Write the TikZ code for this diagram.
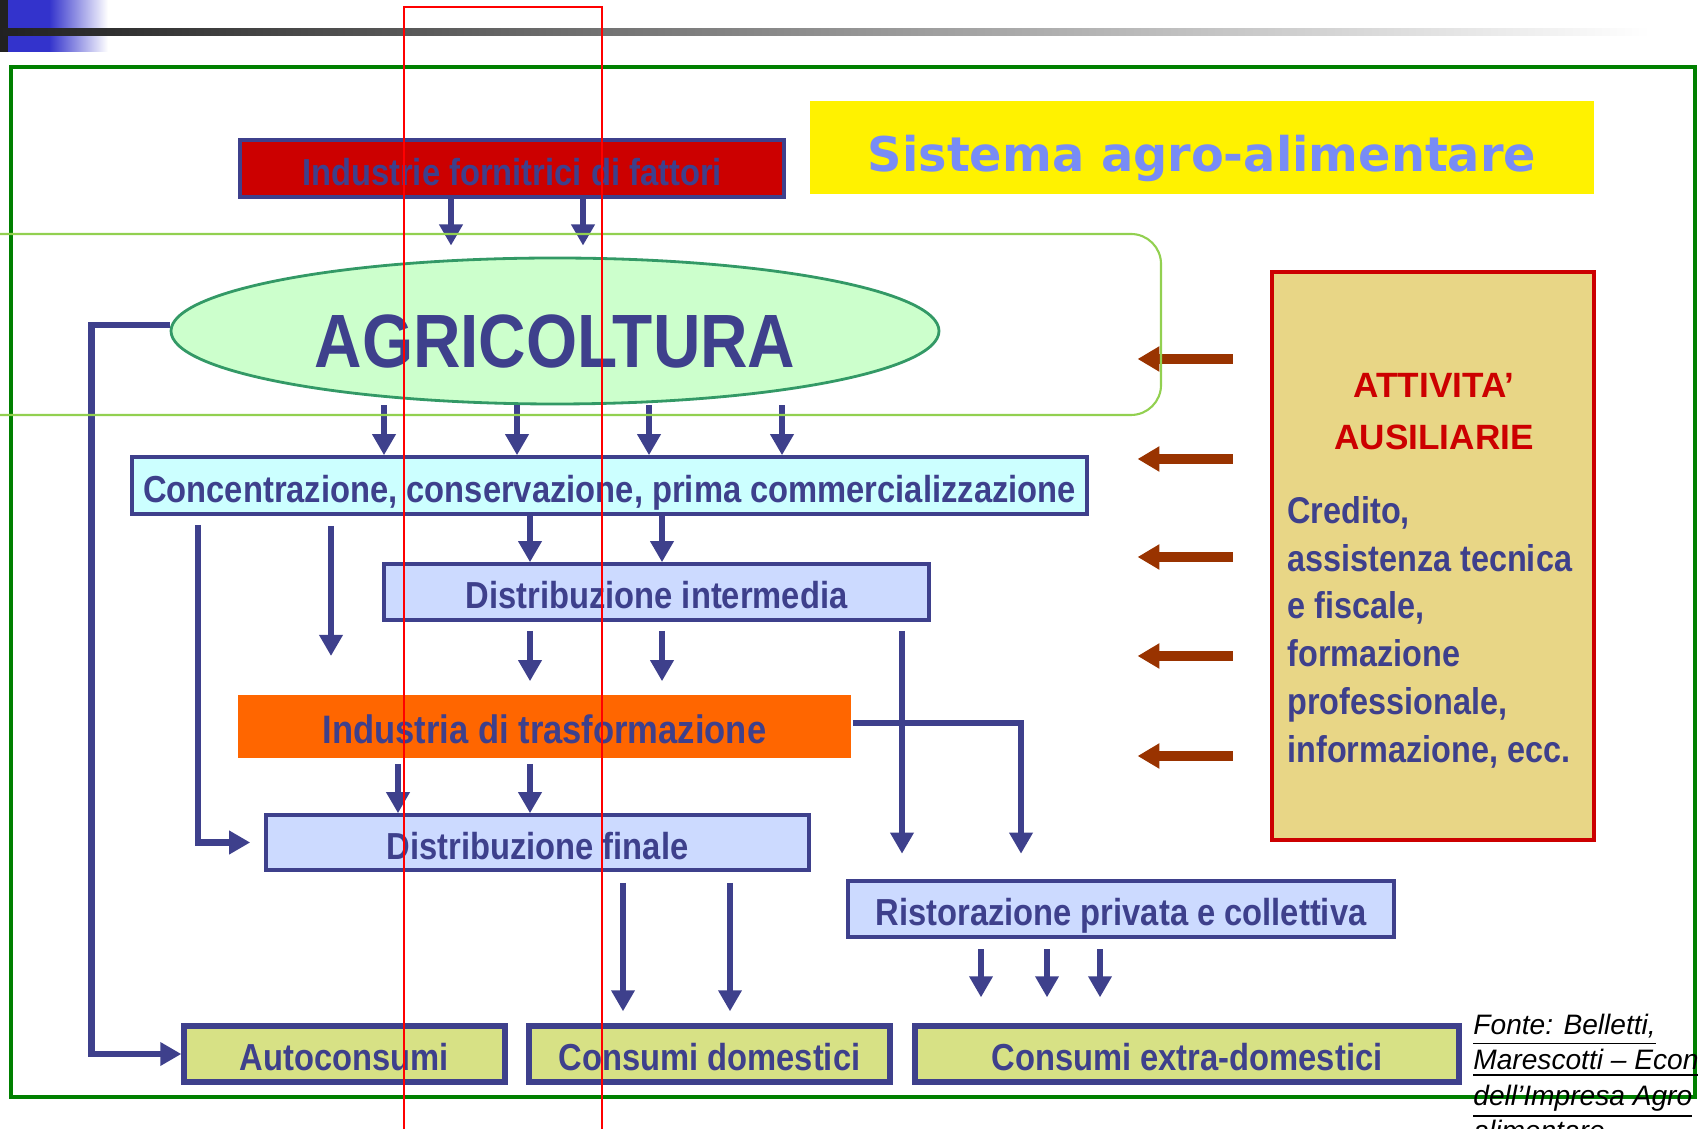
\documentclass[tikz,border=0pt]{standalone}
\usepackage{fontspec}
\setmainfont{Liberation Sans}
\newfontfamily\narrowsf[FakeStretch=0.87]{Liberation Sans}
\newfontfamily\titlesf{DejaVu Sans}
\usepackage{tikz}
\usetikzlibrary{arrows.meta}
\usetikzlibrary{shapes.geometric}

\definecolor{boxnavy}{RGB}{62,64,140}
\definecolor{slideblue}{RGB}{51,51,204}
\definecolor{framegreen}{RGB}{0,128,0}
\definecolor{titleblue}{RGB}{120,140,245}
\definecolor{supplyred}{RGB}{204,0,0}
\definecolor{agrifill}{RGB}{204,255,204}
\definecolor{agriline}{RGB}{51,153,102}
\definecolor{concfill}{RGB}{204,255,255}
\definecolor{distfill}{RGB}{204,218,255}
\definecolor{indorange}{RGB}{255,102,0}
\definecolor{consfill}{RGB}{215,225,133}
\definecolor{auxfill}{RGB}{232,214,134}
\definecolor{auxbrown}{RGB}{153,51,0}
\definecolor{markgreen}{RGB}{146,208,80}

\begin{document}
\begin{tikzpicture}[x=0.1mm, y=-0.1mm, thick]
      \tikzstyle{flow} = [draw=boxnavy, line width=1.9pt, -{Triangle[length=6pt,width=6.4pt]}]
      \tikzstyle{help} = [draw=auxbrown, line width=2.7pt, -{Triangle[length=6.2pt,width=6.8pt]}]
      \tikzstyle{stage} = [rectangle, draw=boxnavy, line width=1pt, fill=distfill, inner sep=0pt,
         text=boxnavy, font=\narrowsf\bfseries\fontsize{10.7pt}{13pt}\selectfont, text height=9.4pt, text depth=0pt]
      \tikzstyle{sink} = [stage, fill=consfill, line width=1.5pt, minimum height=5.6mm]

      \useasboundingbox (0,0) rectangle (1700,1129);
      %slide decoration
      \fill[black!87] (0,0) rectangle (8,52);
      \fill[slideblue] (8,0) rectangle (49,52);
      \shade[left color=slideblue, right color=white] (49,0) rectangle (108,52);
      \shade[left color=black!87, middle color=black!30, right color=white] (0,29) rectangle (1650,36);
      \draw[framegreen, line width=1.2pt] (11,67) rectangle (1695,1097);

      %nodes
      \node[fill=yellow, inner sep=0pt, minimum width=78.4mm, minimum height=9.3mm, text=titleblue,
         font=\titlesf\bfseries\fontsize{13.6pt}{16pt}\selectfont, text height=13.5pt, text depth=0pt]
         (title) at (1202,147.5) {Sistema agro-alimentare};
      \node[stage, fill=supplyred] (indus) at (512,168.5) [minimum width=54.4mm, minimum height=5.7mm] {Industrie fornitrici di fattori};
      \node[ellipse, draw=agriline, fill=agrifill, line width=0.8pt, inner sep=0pt, text=boxnavy,
         font=\narrowsf\bfseries\fontsize{21.5pt}{24pt}\selectfont, text height=20.5pt, text depth=0pt]
         (agri) at (555,331) [minimum width=76.8mm, minimum height=14.6mm] {AGRICOLTURA};
      \node[stage, fill=concfill] (conc) at (609.5,485.5) [minimum width=95.5mm, minimum height=5.7mm] {Concentrazione, conservazione, prima commercializzazione};
      \node[stage] (dint) at (656.5,592) [minimum width=54.5mm, minimum height=5.6mm] {Distribuzione intermedia};
      \node[stage, fill=indorange, draw=none, font=\narrowsf\bfseries\fontsize{11.3pt}{13pt}\selectfont]
         (indu) at (544.5,726.5) [minimum width=61.3mm, minimum height=6.3mm] {Industria di trasformazione};
      \node[stage] (dfin) at (537.5,842.5) [minimum width=54.3mm, minimum height=5.5mm] {Distribuzione finale};
      \node[stage, line width=1.3pt] (rist) at (1121,909) [minimum width=54.6mm, minimum height=5.6mm] {Ristorazione privata e collettiva};
      \node[sink] (auto) at (344.5,1054) [minimum width=32.1mm] {Autoconsumi};
      \node[sink] (consdom) at (709.5,1054) [minimum width=36.1mm] {Consumi domestici};
      \node[sink] (consext) at (1187,1054) [minimum width=54.4mm] {Consumi extra-domestici};

      \node[rectangle, draw=supplyred, fill=auxfill, line width=1.4pt] (attiv) at (1433,556) [minimum width=32.2mm, minimum height=56.8mm] {};
      \node[anchor=north, align=center, inner sep=0pt, text=supplyred, font=\bfseries\fontsize{10pt}{14.8pt}\selectfont]
         (auxhead) at (1434,372) {ATTIVITA’\\AUSILIARIE};
      \node[anchor=north west, align=left, inner sep=0pt, text=boxnavy, font=\narrowsf\bfseries\fontsize{10.6pt}{13.6pt}\selectfont]
         (auxbody) at (1286,495) {Credito,\\assistenza tecnica\\e fiscale,\\formazione\\professionale,\\informazione, ecc.};

      \node[anchor=north west, align=left, inner sep=0pt, font=\itshape\fontsize{8pt}{10pt}\selectfont]
         (fonte) at (1472,1013) {\underline{Fonte: Belletti,}\\\underline{Marescotti – Econ}\\\underline{dell’Impresa Agro}\\\underline{alimentare}};

      \coordinate (drop) at (331,656);

      %lines
      \foreach \x in {451,583}
         \draw[flow, shorten >=1.1mm] (\x,0 |- indus.south) -- (\x,0 |- agri.north);
      \foreach \x in {384,517,649,782}
         \draw[flow] (\x,0 |- agri.south) -- (\x,0 |- conc.north);
      \foreach \x in {530,662}
         \draw[flow] (\x,0 |- conc.south) -- (\x,0 |- dint.north);
      \draw[flow, shorten <=1mm] (drop |- conc.south) -- (drop);
      \draw[flow, shorten <=0.9mm, shorten >=1.4mm] (198,0 |- conc.south) |- (dfin.west);
      \foreach \x in {530,662}
         \draw[flow, shorten <=0.9mm, shorten >=1.2mm] (\x,0 |- dint.south) -- (\x,0 |- indu.north);
      \draw[flow, shorten <=0.9mm, shorten >=2.5mm] (902,0 |- dint.south) -- (902,0 |- rist.north);
      \draw[flow, shorten >=2.5mm] ([yshift=0.35mm]indu.east) -| (1021,0 |- rist.north);
      \foreach \x in {398,530}
         \draw[flow, shorten <=0.4mm] (\x,0 |- indu.south) -- (\x,0 |- dfin.north);
      \foreach \x in {623,730}
         \draw[flow, shorten <=1.1mm, shorten >=1.2mm] (\x,0 |- dfin.south) -- (\x,0 |- consdom.north);
      \foreach \x in {981,1047,1100}
         \draw[flow, shorten <=1mm, shorten >=2.6mm] (\x,0 |- rist.south) -- (\x,0 |- consext.north);
      \draw[flow] ([yshift=0.6mm]agri.west) -- ++(-78,0) |- (auto.west);
      \foreach \y in {359,459,557,656,756}
         \draw[help, shorten <=3.7mm] (attiv.west |- 0,\y) -- ++(-132,0);

      %marks
      \draw[markgreen, line width=0.6pt, rounded corners=3mm] (-30,234) rectangle (1161,415);
      \draw[red, line width=0.45pt] (404,7) rectangle (602,1140);
\end{tikzpicture}
\end{document}
